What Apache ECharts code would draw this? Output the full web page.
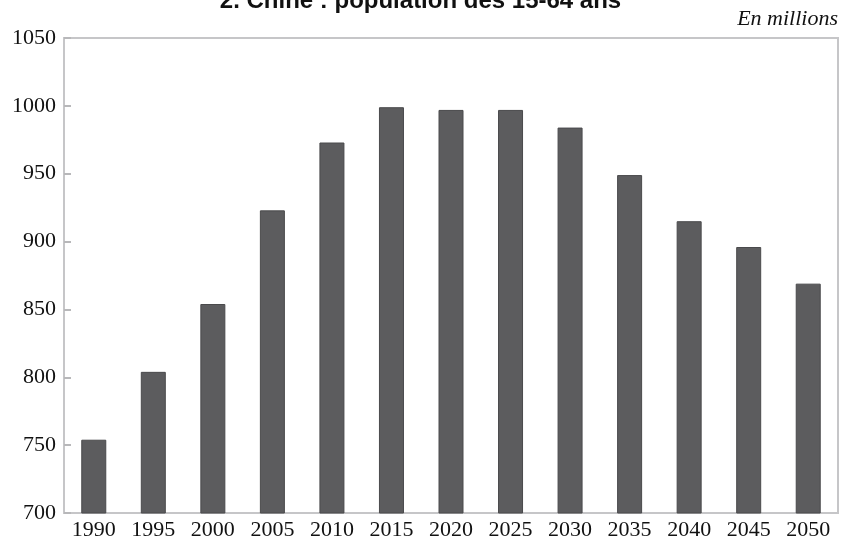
<!DOCTYPE html>
<html>
<head>
<meta charset="utf-8">
<script src="https://cdn.jsdelivr.net/npm/echarts@6/dist/echarts.min.js"></script>
<style>
 html,body{margin:0;padding:0;background:#fff;}
 #chart{width:841px;height:545px;}
</style>
</head>
<body>
<div id="chart"></div>
<script>
// années et population des 15-64 ans (millions)
var years = ["1990","1995","2000","2005","2010","2015","2020","2025","2030","2035","2040","2045","2050"];
var population = [754, 804, 854, 923, 973, 999, 997, 997, 984, 949, 915, 896, 869];
var yTicks = [700, 750, 800, 850, 900, 950, 1000, 1050];

var myChart = echarts.init(document.getElementById('chart'));
var option = {
  animation: false,
  title: {
    text: '2. Chine : population des 15-64 ans',
    left: 'center',
    top: -16,
    textStyle: {fontFamily: 'Liberation Sans', fontWeight: 'bold', fontSize: 24, color: '#111'}
  },
  graphic: [{
    type: 'text',
    right: 3,
    top: 8,
    style: {text: 'En millions', font: 'italic 22px "Liberation Serif"', fill: '#111'}
  }],
  grid: {
    left: 64, right: 3, top: 38, bottom: 32,
    show: true, borderColor: '#c6c6c8', borderWidth: 2
  },
  xAxis: {
    type: 'category',
    data: years,
    axisLine: {lineStyle: {color: '#c6c6c8', width: 2}},
    axisTick: {show: false},
    axisLabel: {fontFamily: 'Liberation Serif', fontSize: 22, color: '#111', margin: 6}
  },
  yAxis: {
    type: 'value',
    min: yTicks[0],
    max: yTicks[yTicks.length - 1],
    interval: 50,
    splitLine: {show: false},
    axisLine: {show: true, lineStyle: {color: '#c6c6c8', width: 2}},
    axisTick: {show: true, inside: true, length: 7, lineStyle: {color: '#b8b8ba', width: 2}},
    axisLabel: {
      fontFamily: 'Liberation Serif', fontSize: 22, color: '#111', margin: 8,
      formatter: function (v) { return String(v); }
    }
  },
  series: [{
    type: 'bar',
    data: population,
    barWidth: 25,
    itemStyle: {color: '#5c5c5e', borderColor: '#4a4a4c', borderWidth: 1}
  }]
};
myChart.setOption(option);
</script>
</body>
</html>
